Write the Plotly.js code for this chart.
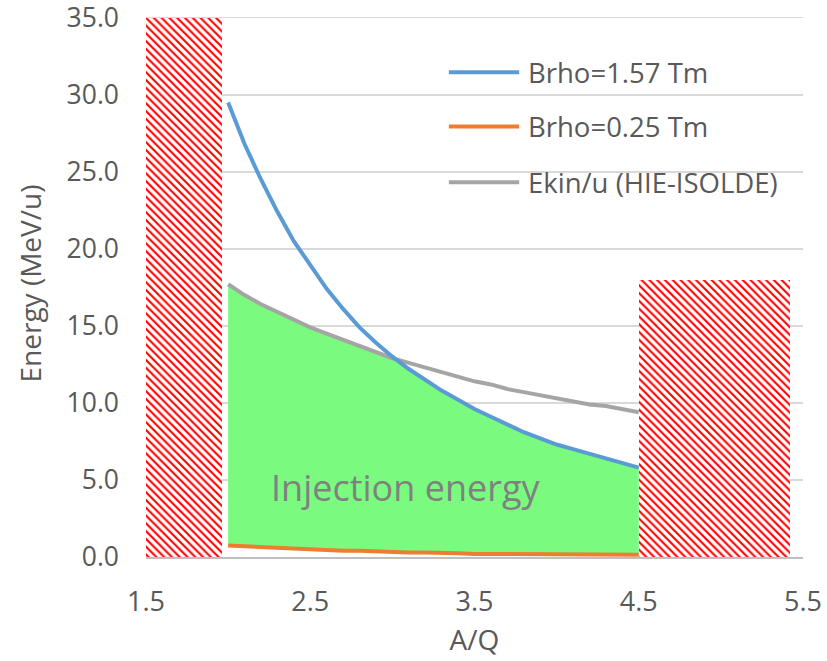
<!DOCTYPE html>
<html>
<head>
<meta charset="utf-8">
<script src="https://cdn.plot.ly/plotly-3.0.1.min.js"></script>
<style>
  html, body { margin: 0; padding: 0; background: #fff; }
  #chart { width: 827px; height: 661px; }
</style>
</head>
<body>
<div id="chart"></div>
<script>
// Mass-to-charge ratio grid
const aq = [2.0, 2.1, 2.2, 2.3, 2.4, 2.5, 2.6, 2.7, 2.8, 2.9, 3.0, 3.1, 3.2,
            3.3, 3.4, 3.5, 3.6, 3.7, 3.8, 3.9, 4.0, 4.1, 4.2, 4.3, 4.4, 4.5];

// Energy per nucleon (MeV/u) for a magnetic rigidity of 1.57 Tm
const brhoHigh = [29.5, 26.8, 24.5, 22.4, 20.5, 18.9, 17.4, 16.1, 14.9, 13.9, 13.0, 12.2, 11.5,
                  10.8, 10.2, 9.6, 9.1, 8.6, 8.1, 7.7, 7.3, 7.0, 6.7, 6.4, 6.1, 5.8];

// Energy per nucleon (MeV/u) for a magnetic rigidity of 0.25 Tm
const brhoLow = [0.75, 0.7, 0.65, 0.6, 0.5, 0.5, 0.45, 0.4, 0.4, 0.35, 0.35, 0.3, 0.3,
                 0.3, 0.25, 0.2, 0.2, 0.2, 0.2, 0.2, 0.2, 0.2, 0.2, 0.15, 0.15, 0.15];

// Kinetic energy per nucleon reachable with HIE-ISOLDE (MeV/u)
const hieIsolde = [17.7, 17.0, 16.4, 15.9, 15.4, 14.9, 14.5, 14.1, 13.7, 13.3, 12.9, 12.6, 12.3,
                   12.0, 11.7, 11.4, 11.2, 10.9, 10.7, 10.5, 10.3, 10.1, 9.9, 9.8, 9.6, 9.4];

// Excluded A/Q bands (hatched) and their heights (MeV/u)
const bandStart = [1.5, 4.5];
const bandEnd = [1.96, 5.42];
const bandTop = [35, 18];

// Energy axis ticks
const energyTicks = [0, 5, 10, 15, 20, 25, 30, 35];

const seriesNames = ['Brho=1.57 Tm', 'Brho=0.25 Tm', 'Ekin/u (HIE-ISOLDE)'];
const seriesColors = ['#5b9bd5', '#ed7d31', '#a5a5a5'];

// Upper edge of the injection window: lower of the two limits
const injectionTop = aq.map((_, i) => Math.min(brhoHigh[i], hieIsolde[i]));

const textColor = '#595959';
const font = 'Open Sans, sans-serif';

const traces = [
  {
    type: 'bar',
    x: bandStart.map((s, i) => (s + bandEnd[i]) / 2),
    y: bandTop,
    width: bandStart.map((s, i) => bandEnd[i] - s),
    marker: {
      color: '#ffffff',
      line: { width: 0 },
      pattern: { shape: '\\', fgcolor: '#ff0000', bgcolor: '#ffffff', size: 5.5, solidity: 0.38 }
    },
    showlegend: false,
    hoverinfo: 'skip'
  },
  {
    type: 'scatter', mode: 'lines', x: aq, y: brhoLow, name: seriesNames[1],
    line: { color: seriesColors[1], width: 4 }, showlegend: false
  },
  {
    type: 'scatter', mode: 'lines', x: aq, y: injectionTop, name: 'Injection energy',
    line: { width: 0 }, fill: 'tonexty', fillcolor: '#7afb7f', showlegend: false,
    hoverinfo: 'skip'
  },
  {
    type: 'scatter', mode: 'lines', x: aq, y: hieIsolde, name: seriesNames[2],
    line: { color: seriesColors[2], width: 4 }, showlegend: false
  },
  {
    type: 'scatter', mode: 'lines', x: aq, y: brhoHigh, name: seriesNames[0],
    line: { color: seriesColors[0], width: 4 }, showlegend: false
  }
];

// Legend drawn by hand so the sample lines can be long
const legendX0 = 0.461, legendX1 = 0.568, legendTextX = 0.578;
const legendY = [0.886, 0.787, 0.685];
const shapes = seriesNames.map((n, i) => ({
  type: 'line', xref: 'paper', yref: 'paper',
  x0: legendX0, x1: legendX1, y0: legendY[i], y1: legendY[i],
  line: { color: seriesColors[i], width: 4 }
}));
const annotations = seriesNames.map((n, i) => ({
  xref: 'paper', yref: 'paper', x: legendTextX, y: legendY[i],
  xanchor: 'left', yanchor: 'middle', text: n, showarrow: false,
  font: { family: font, size: 27.5, color: textColor }
}));
annotations.push({
  xref: 'x', yref: 'y', x: 3.08, y: 4.5, text: 'Injection energy',
  showarrow: false, xanchor: 'center', yanchor: 'middle',
  font: { family: font, size: 36, color: '#808080' }
});

const layout = {
  width: 827, height: 661,
  margin: { l: 146, r: 24, t: 10, b: 104 },
  paper_bgcolor: '#ffffff', plot_bgcolor: '#ffffff',
  font: { family: font, size: 27, color: textColor },
  showlegend: false,
  bargap: 0,
  xaxis: {
    range: [1.5, 5.5], tick0: 1.5, dtick: 1, tickformat: '.1f',
    showgrid: false, zeroline: false,
    showline: true, linecolor: '#bfbfbf', linewidth: 2,
    ticks: '', ticklabelstandoff: 20, ticklabeloverflow: 'allow',
    tickfont: { family: font, size: 27, color: textColor },
    title: { text: 'A/Q', standoff: 12, font: { family: font, size: 28, color: textColor } }
  },
  yaxis: {
    range: [0, 35.5], tickmode: 'array', tickvals: energyTicks,
    ticktext: energyTicks.map(v => v.toFixed(1)),
    showgrid: true, gridcolor: '#d9d9d9', gridwidth: 1.5,
    zeroline: false, showline: false,
    ticks: '', ticklabelstandoff: 26, ticklabeloverflow: 'allow',
    tickfont: { family: font, size: 26.5, color: textColor },
    title: { text: 'Energy (MeV/u)', standoff: 16, font: { family: font, size: 28, color: textColor } }
  },
  shapes: shapes,
  annotations: annotations
};

Plotly.newPlot('chart', traces, layout, { displayModeBar: false, staticPlot: true });
</script>
</body>
</html>
